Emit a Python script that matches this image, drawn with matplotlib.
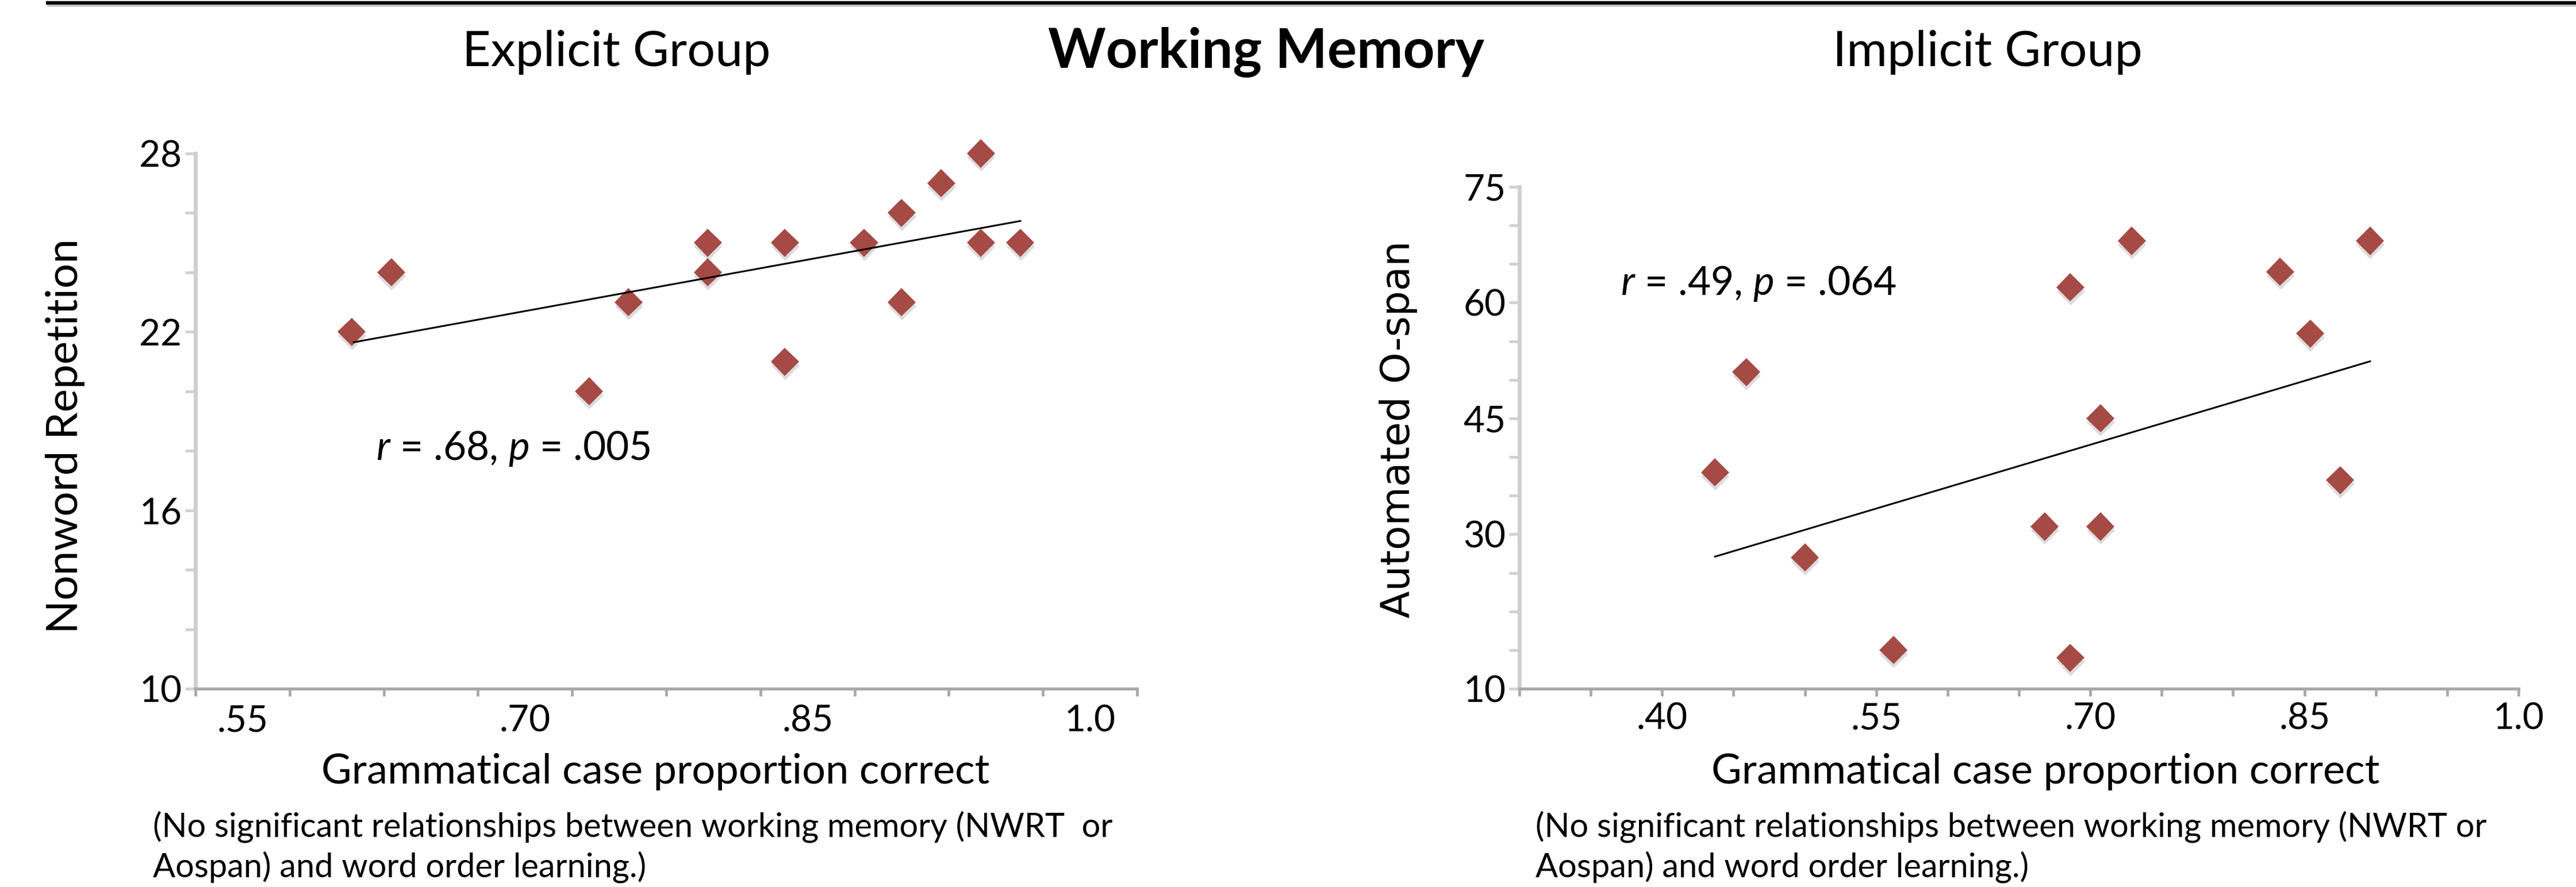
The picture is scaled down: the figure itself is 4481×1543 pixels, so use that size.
import numpy as np
import matplotlib
matplotlib.use("Agg")
import matplotlib.pyplot as plt
import matplotlib.patheffects as pe
from matplotlib.lines import Line2D

# explicit group: grammatical case accuracy vs nonword repetition
explicit_case = [0.608, 0.629, 0.734, 0.755, 0.797, 0.797, 0.838, 0.838,
                 0.880, 0.900, 0.900, 0.921, 0.942, 0.942, 0.963]
explicit_nwr = [22, 24, 20, 23, 25, 24, 25, 21, 25, 26, 23, 27, 28, 25, 25]
# trend line ends as drawn in the original
explicit_trend_x = [0.609, 0.963]
explicit_trend_y = [21.65, 25.73]

# implicit group: grammatical case accuracy vs automated o-span
implicit_case = [0.437, 0.459, 0.500, 0.562, 0.668, 0.686, 0.686, 0.707,
                 0.707, 0.729, 0.833, 0.854, 0.875, 0.896]
implicit_ospan = [38, 51, 27, 15, 31, 62, 14, 45, 31, 68, 64, 56, 37, 68]
implicit_trend_x = [0.437, 0.896]
implicit_trend_y = [27.1, 52.4]

explicit_xticks = [0.55, 0.70, 0.85, 1.0]
explicit_xlabels = ['.55', '.70', '.85', '1.0']
explicit_yticks = [10, 16, 22, 28]
implicit_xticks = [0.40, 0.55, 0.70, 0.85, 1.0]
implicit_xlabels = ['.40', '.55', '.70', '.85', '1.0']
implicit_yticks = [10, 30, 45, 60, 75]

explicit_stats = r"$\mathit{r}$ = .68, $\mathit{p}$ = .005"
implicit_stats = r"$\mathit{r}$ = .49, $\mathit{p}$ = .064"
note = ("(No significant relationships between working memory (NWRT{}or\n"
        "Aospan) and word order learning.)")

plt.rcParams['font.family'] = ['Lato', 'DejaVu Sans']
plt.rcParams['mathtext.fontset'] = 'custom'
plt.rcParams['mathtext.rm'] = 'Lato'
plt.rcParams['mathtext.it'] = 'Lato:italic'

RED = '#A54A44'
W, H = 4481, 1543
fig = plt.figure(figsize=(W / 100, H / 100), dpi=100)

# thick rule along the top
rule = Line2D([80 / W, 1.0], [1 - 5 / H] * 2, transform=fig.transFigure,
              color='black', lw=4.5, solid_capstyle='butt',
              path_effects=[pe.SimpleLineShadow(offset=(1.5, -3), shadow_color='0.4', alpha=0.35),
                            pe.Normal()])
fig.add_artist(rule)


def style_axes(ax, xlim, ylim, xminor, yminor):
    ax.set_xlim(*xlim)
    ax.set_ylim(*ylim)
    for s in ['top', 'right']:
        ax.spines[s].set_visible(False)
    ax.spines['left'].set_color('#CFCFCF')
    ax.spines['left'].set_linewidth(5)
    ax.spines['bottom'].set_color('#A8A8A8')
    ax.spines['bottom'].set_linewidth(3.8)
    ax.set_xticks(xminor, minor=True)
    ax.set_yticks(yminor, minor=True)
    ax.tick_params(axis='x', which='both', colors='#A8A8A8', width=3.4, length=9,
                   labelcolor='black', labelsize=46, pad=6)
    ax.tick_params(axis='y', which='both', colors='#D2D2D2', width=3.6, length=13,
                   labelcolor='black', labelsize=46, pad=4)


def draw_points(ax, x, y, tx, ty):
    ax.plot(x, y, linestyle='none', marker='D', ms=25, color=RED, mew=0,
            clip_on=False, zorder=3,
            path_effects=[pe.SimplePatchShadow(offset=(0.5, -5), shadow_rgbFace='0.55', alpha=0.3),
                          pe.Normal()])
    ax.plot(tx, ty, color='black', lw=2.2, zorder=4)


# left panel
ax1 = fig.add_axes([340 / W, 1 - 1198 / H, (1978 - 340) / W, (1198 - 267) / H])
style_axes(ax1, (0.525, 1.025), (10, 28),
           np.arange(0.525, 1.026, 0.05), np.arange(10, 28.1, 2))
ax1.set_xticks(explicit_xticks, explicit_xlabels)
ax1.tick_params(axis='x', which='major', length=0, pad=20)
ax1.set_yticks(explicit_yticks, [str(v) for v in explicit_yticks])
draw_points(ax1, explicit_case, explicit_nwr, explicit_trend_x, explicit_trend_y)
ax1.text(0.621, 17.7, explicit_stats, fontsize=50, va='baseline', ha='left')

# right panel
ax2 = fig.add_axes([2643 / W, 1 - 1198 / H, (4381 - 2643) / W, (1198 - 325) / H])
style_axes(ax2, (0.30, 1.0), (10, 75),
           np.arange(0.30, 1.001, 0.05), np.arange(10, 75.1, 5))
ax2.set_xticks(implicit_xticks, implicit_xlabels)
ax2.tick_params(axis='x', which='major', pad=8)
ax2.set_yticks(implicit_yticks, [str(v) for v in implicit_yticks])
draw_points(ax2, implicit_case, implicit_ospan, implicit_trend_x, implicit_trend_y)
ax2.text(0.371, 61.0, implicit_stats, fontsize=50, va='baseline', ha='left')

# titles
fig.text(1072 / W, 1 - 91 / H, 'Explicit Group', fontsize=62, ha='center', va='center')
fig.text(2203 / W, 1 - 91 / H, 'Working Memory', fontsize=69, fontweight='bold',
         ha='center', va='center')
fig.text(3457 / W, 1 - 91 / H, 'Implicit Group', fontsize=62, ha='center', va='center')

# axis titles
fig.text(114 / W, 1 - 759 / H, 'Nonword Repetition', fontsize=55, rotation=90,
         ha='center', va='center')
fig.text(2432 / W, 1 - 747 / H, 'Automated O-span', fontsize=50, rotation=90,
         ha='center', va='center', family='DejaVu Sans')
fig.text(1140 / W, 1 - 1363 / H, 'Grammatical case proportion correct', fontsize=52,
         ha='center', va='baseline')
fig.text(3558 / W, 1 - 1363 / H, 'Grammatical case proportion correct', fontsize=52,
         ha='center', va='baseline')

# notes under each panel
fig.text(266 / W, 1 - 1525 / H, note.format('  '), fontsize=41.6, ha='left',
         va='baseline', linespacing=1.3)
fig.text(2671 / W, 1 - 1525 / H, note.format(' '), fontsize=41.6, ha='left',
         va='baseline', linespacing=1.3)

fig.savefig('out.png', dpi=100, facecolor='white')
